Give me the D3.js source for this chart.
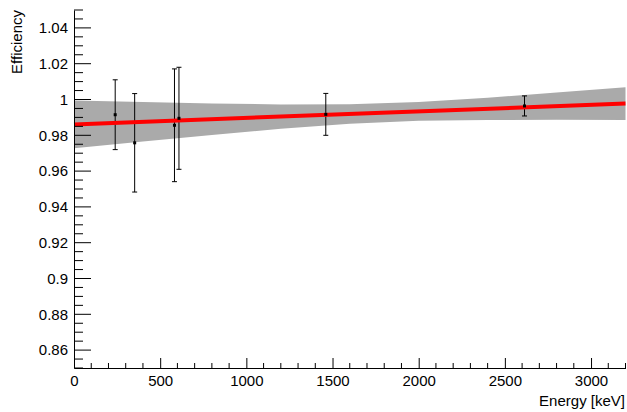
<!DOCTYPE html>
<html><head><meta charset="utf-8">
<script src="https://cdn.jsdelivr.net/npm/d3@7"></script>
<style>body{margin:0;background:#fff}svg{display:block;font-family:"Liberation Sans",Arial,sans-serif}</style>
</head><body><div id="chart"></div>
<script>
// measured points
const energies = [239, 352, 583, 609, 1461, 2614];
const effs = [0.9915, 0.9758, 0.9856, 0.9895, 0.9917, 0.9964];
const errs = [0.0195, 0.0275, 0.0315, 0.0285, 0.0117, 0.0056];
// fit line end points and confidence band
const fitE = [0, 3200];
const fitV = [0.9861, 0.9977];
const bandE = [0, 400, 800, 1200, 1600, 2000, 2400, 2800, 3200];
const bandHalf = [0.0134, 0.011, 0.0088, 0.0068, 0.0054, 0.0052, 0.0062, 0.0076, 0.0091];
const yTicks = [0.86, 0.88, 0.9, 0.92, 0.94, 0.96, 0.98, 1, 1.02, 1.04];
const xTicks = [0, 500, 1000, 1500, 2000, 2500, 3000];

const W = 627, H = 412;
const m = {l: 74, r: 1.5, t: 10, b: 44};
const svg = d3.select('#chart').append('svg').attr('width', W).attr('height', H);
const x = d3.scaleLinear().domain([0, 3200]).range([m.l, W - m.r]);
const y = d3.scaleLinear().domain([0.85, 1.05]).range([H - m.b, m.t]);

const fitAt = e => fitV[0] + (fitV[1] - fitV[0]) * (e - fitE[0]) / (fitE[1] - fitE[0]);

// band
svg.append('path')
  .datum(bandE.map((e, i) => [e, bandHalf[i]]))
  .attr('fill', '#aaaaaa')
  .attr('d', d3.area()
    .x(d => x(d[0]))
    .y0(d => y(fitAt(d[0]) - d[1]))
    .y1(d => y(fitAt(d[0]) + d[1])));

// error bars
const g = svg.append('g').attr('stroke', '#000').attr('stroke-width', 1);
energies.forEach((e, i) => {
  const cx = x(e);
  g.append('line').attr('x1', cx).attr('x2', cx).attr('y1', y(effs[i] + errs[i])).attr('y2', y(effs[i] - errs[i]));
  [effs[i] + errs[i], effs[i] - errs[i]].forEach(v => {
    g.append('line').attr('x1', cx - 2.5).attr('x2', cx + 2.5).attr('y1', y(v)).attr('y2', y(v));
  });
});

// fit line
svg.append('line')
  .attr('x1', x(fitE[0])).attr('y1', y(fitV[0]))
  .attr('x2', x(fitE[1])).attr('y2', y(fitV[1]))
  .attr('stroke', '#ff0000').attr('stroke-width', 4);

// markers
svg.selectAll('rect.pt').data(energies).join('rect')
  .attr('x', d => x(d) - 1.5).attr('y', (d, i) => y(effs[i]) - 1.5)
  .attr('width', 3).attr('height', 3).attr('fill', '#000');

// axes
const xAxis = d3.axisBottom(x).tickValues(xTicks).tickSize(10).tickSizeOuter(0).tickFormat(d3.format('d'));
const xa = svg.append('g').attr('transform', `translate(0,${H - m.b})`).call(xAxis);
xa.selectAll('.tick line').attr('y2', -10);
xa.selectAll('text').attr('y', 7).attr('font-size', 15).attr('fill', '#000');
xa.select('.domain').attr('stroke', '#000');
d3.range(0, 3201, 100).filter(v => v % 500).forEach(v => {
  xa.append('line').attr('x1', x(v)).attr('x2', x(v)).attr('y1', 0).attr('y2', -5).attr('stroke', '#000');
});

const yAxis = d3.axisLeft(y).tickValues(yTicks).tickSize(0).tickSizeOuter(0).tickFormat(d => d3.format('')(+d.toFixed(2)));
const ya = svg.append('g').attr('transform', `translate(${m.l},0)`).call(yAxis);
ya.selectAll('text').attr('x', -6).attr('font-size', 15).attr('fill', '#000');
ya.select('.domain').attr('stroke', '#000');
d3.range(0.85, 1.0501, 0.005).forEach(v => {
  const major = Math.abs(Math.round(v * 50) - v * 50) < 1e-6;
  ya.append('line').attr('x1', 0).attr('x2', major ? 17 : 9).attr('y1', y(v)).attr('y2', y(v)).attr('stroke', '#000');
});

svg.append('text').attr('x', W - 2).attr('y', 406).attr('text-anchor', 'end')
  .attr('font-size', 15).text('Energy [keV]');
svg.append('text').attr('transform', 'translate(22,10) rotate(-90)').attr('text-anchor', 'end')
  .attr('font-size', 15).text('Efficiency');
</script></body></html>
